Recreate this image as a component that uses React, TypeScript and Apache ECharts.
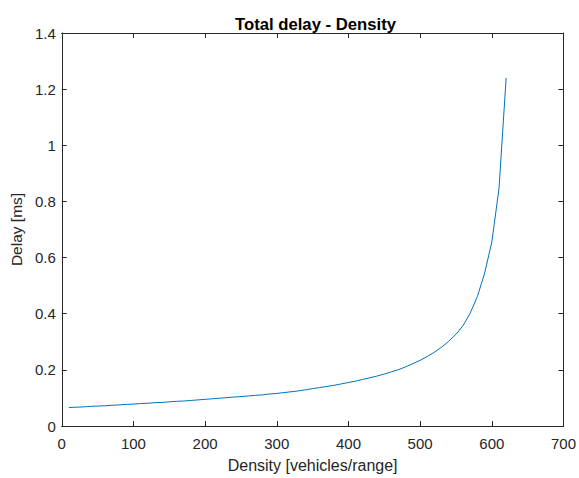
import React, { useEffect, useRef } from "react";
import * as echarts from "echarts";

const densities: number[] = [
  10, 20, 30, 40, 50, 60, 70, 80, 90, 100,
  110, 120, 130, 140, 150, 160, 170, 180, 190, 200,
  210, 220, 230, 240, 250, 260, 270, 280, 290, 300,
  310, 320, 330, 340, 350, 360, 370, 380, 390, 400,
  410, 420, 430, 440, 450, 460, 470, 480, 490, 500,
  510, 520, 530, 540, 550, 560, 570, 580, 590, 600,
  610, 620,
];

const delays: number[] = [
  0.066, 0.067, 0.068, 0.07, 0.071, 0.072, 0.074, 0.075, 0.077, 0.078,
  0.08, 0.081, 0.083, 0.084, 0.086, 0.088, 0.089, 0.091, 0.093, 0.095,
  0.097, 0.099, 0.101, 0.103, 0.105, 0.107, 0.109, 0.111, 0.114, 0.116,
  0.119, 0.122, 0.125, 0.129, 0.133, 0.137, 0.141, 0.145, 0.15, 0.155,
  0.16, 0.166, 0.172, 0.178, 0.185, 0.193, 0.201, 0.211, 0.222, 0.234,
  0.248, 0.263, 0.281, 0.302, 0.327, 0.358, 0.403, 0.462, 0.545, 0.655,
  0.845, 1.24,
];

const titleText = "Total delay - Density";
const xName = "Density [vehicles/range]";
const yName = "Delay [ms]";

const FONT = "'Liberation Sans', Arial, sans-serif";
const AX = "#262626";

export default function App() {
  const ref = useRef<HTMLDivElement>(null);
  useEffect(() => {
    if (!ref.current) return;
    const chart = echarts.init(ref.current, undefined, { renderer: "svg" });
    const axisCommon = {
      axisLine: { show: true, onZero: false, lineStyle: { color: AX, width: 1 } },
      axisTick: { show: true, inside: true, length: 5, lineStyle: { color: AX } },
      splitLine: { show: false },
    };
    chart.setOption({
      animation: false,
      backgroundColor: "#ffffff",
      title: {
        text: titleText,
        left: 310.5,
        top: 11,
        textAlign: "center",
        textStyle: { fontFamily: FONT, fontSize: 16.7, fontWeight: "bold", color: "#000" },
      },
      grid: { left: 58, top: 33, width: 505.5, height: 396.5, containLabel: false },
      xAxis: [
        {
          type: "value",
          min: 0,
          max: 700,
          interval: 100,
          position: "bottom",
          ...axisCommon,
          axisLabel: { fontFamily: FONT, fontSize: 15, color: AX, margin: 10 },
          name: xName,
          nameLocation: "middle",
          nameGap: 31,
          nameTextStyle: { fontFamily: FONT, fontSize: 16, color: AX },
        },
        {
          type: "value",
          min: 0,
          max: 700,
          interval: 100,
          position: "top",
          ...axisCommon,
          axisLabel: { show: false },
        },
      ],
      yAxis: [
        {
          type: "value",
          min: 0,
          max: 1.4,
          interval: 0.2,
          position: "left",
          ...axisCommon,
          axisLabel: { fontFamily: FONT, fontSize: 15, color: AX, margin: 6 },
          name: yName,
          nameLocation: "middle",
          nameGap: 37,
          nameTextStyle: { fontFamily: FONT, fontSize: 15.5, color: AX },
        },
        {
          type: "value",
          min: 0,
          max: 1.4,
          interval: 0.2,
          position: "right",
          ...axisCommon,
          axisLabel: { show: false },
        },
      ],
      series: [
        {
          type: "line",
          xAxisIndex: 0,
          yAxisIndex: 0,
          data: densities.map((d, i) => [d, delays[i]]),
          showSymbol: false,
          smooth: false,
          lineStyle: { color: "#0072BD", width: 1 },
          itemStyle: { color: "#0072BD" },
        },
      ],
    });
    return () => chart.dispose();
  }, []);
  return (
    <div
      ref={ref}
      style={{ position: "absolute", left: 0, top: 0, width: 579, height: 478, background: "#fff" }}
    />
  );
}
